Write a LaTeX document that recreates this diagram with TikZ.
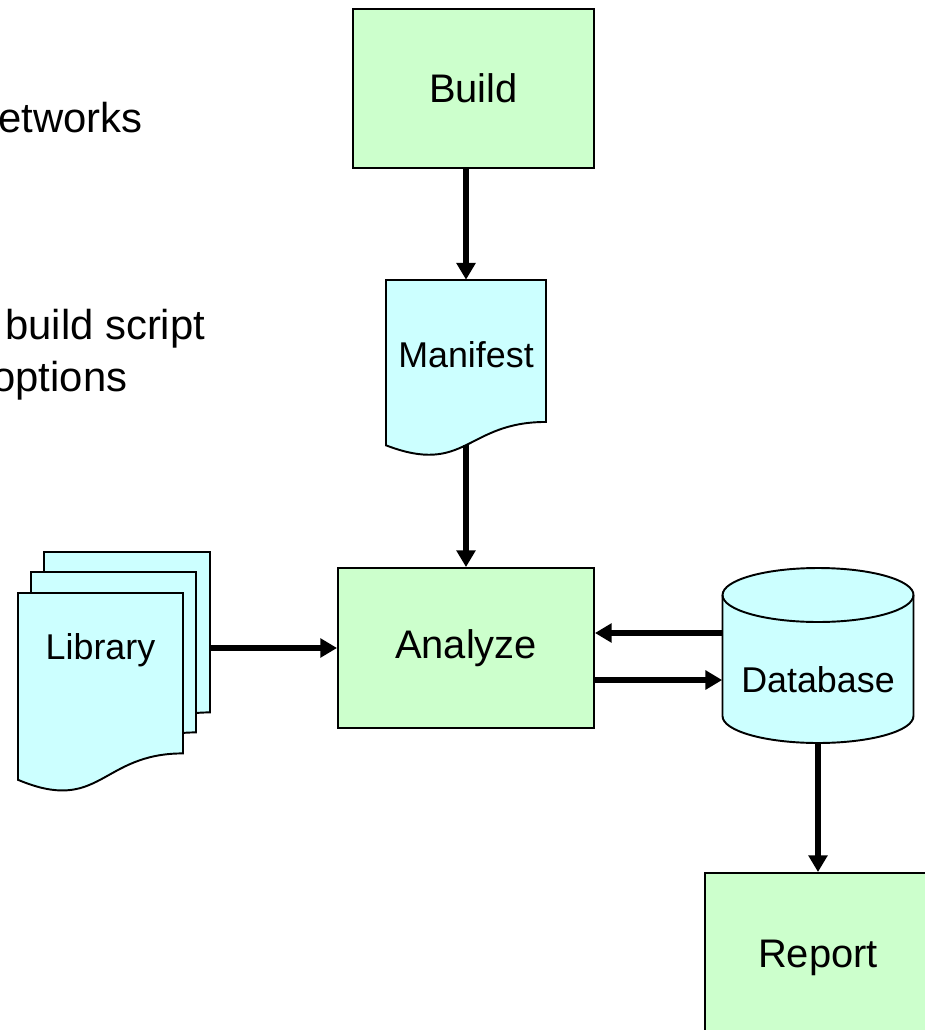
\documentclass[tikz,border=0pt]{standalone}
\usepackage{fontspec}
\setmainfont{Liberation Sans}
\usetikzlibrary{arrows.meta,calc}

\definecolor{procgreen}{HTML}{CCFFCC}
\definecolor{datacyan}{HTML}{CCFFFF}

\tikzset{
  process/.style={draw,fill=procgreen,line width=1.1pt,font=\fontsize{22.7}{27}\selectfont},
  sheet/.style={draw,fill=datacyan,line width=1.1pt},
  datatext/.style={font=\fontsize{20.4}{24}\selectfont},
  note/.style={anchor=base west,inner sep=0pt,font=\fontsize{23.8}{28}\selectfont},
  flow/.style={line width=3pt,-{Triangle[width=10.5pt,length=9.5pt]}},
}

% paper sheet with a wavy lower edge: left, top, width, height
\newcommand{\docsheet}[4]{%
  \filldraw[sheet] (#1,#2) -- ({#1+#3},#2) -- ({#1+#3},{#2+0.802*#4})
    .. controls ({#1+0.5*#3},{#2+0.802*#4}) and ({#1+0.5*#3},{#2+1.1075*#4}) .. (#1,{#2+0.934*#4}) -- cycle;}

\begin{document}
\begin{tikzpicture}[x=0.02cm,y=-0.02cm]
  \useasboundingbox (0,0) rectangle (924,1030);

  % text running off the left edge
  \node[note] (nets) at (-2,133) {etworks};
  \node[note] (script) at (5,339) {build script};
  \node[note] (opts) at (-8,391) {options};

  % sheets and the store
  \docsheet{386}{280}{160}{177}
  \docsheet{44}{552}{166}{200}
  \docsheet{31}{572}{165}{200}
  \docsheet{18}{593}{165}{200}
  \filldraw[sheet] (722.5,595) -- (722.5,716)
    arc[start angle=180,end angle=360,x radius=1.91cm,y radius=0.54cm] -- (913.5,595)
    arc[start angle=0,end angle=180,x radius=1.91cm,y radius=0.54cm] -- cycle;
  \draw[line width=1.1pt] (722.5,595) arc[start angle=180,end angle=360,x radius=1.91cm,y radius=0.54cm];

  % boxes
  \node[process,minimum width=4.82cm,minimum height=3.18cm] (build) at (473.5,88.5) {Build};
  \node[process,minimum width=5.12cm,minimum height=3.2cm] (analyze) at (466,648) {Analyze};
  \node[process,minimum width=4.52cm,minimum height=3.4cm] (report) at (818,958) {Report};
  \node[minimum width=3.2cm,minimum height=3.3cm,
        label={[datatext,yshift=0.15cm]center:Manifest}] (manifest) at (466,362.5) {};
  \node[minimum width=3.82cm,minimum height=3.5cm,
        label={[datatext,yshift=-0.49cm]center:Database}] (database) at (818,655.5) {};
  \node[datatext] (library) at (100.5,650) {Library};
  \coordinate (libedge) at (210,648);
  \coordinate (dbout) at ($(database.west)+(0,-22.5)$);
  \coordinate (dbin) at ($(database.west)+(0,24.5)$);

  % arrows
  \draw[flow] (manifest.north |- build.south) -- (manifest.north);
  \draw[flow] (manifest.south) -- (analyze.north);
  \draw[flow] (libedge) -- (analyze.west);
  \draw[flow] (dbout) -- (dbout -| analyze.east);
  \draw[flow] (dbin -| analyze.east) -- (dbin);
  \draw[flow] (database.south) -- (report.north);
\end{tikzpicture}
\end{document}
